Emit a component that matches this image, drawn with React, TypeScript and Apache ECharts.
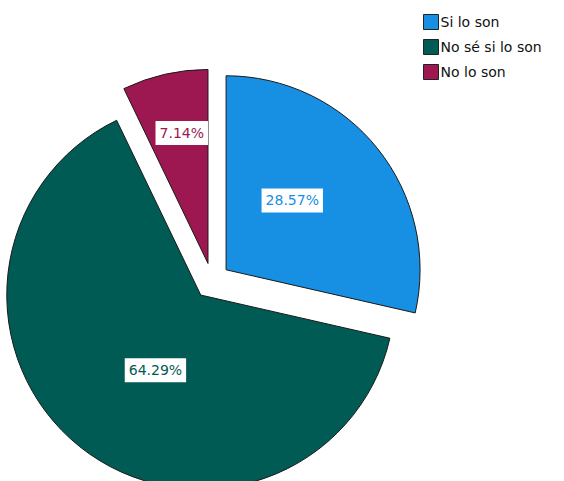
import React, { useEffect, useRef } from "react";
import * as echarts from "echarts";

const categories = ["Si lo son", "No sé si lo son", "No lo son"];
const values = [28.57, 64.29, 7.14];
const colors = ["#1790e3", "#015b55", "#9d1750"];

// label nudges to mimic the original placement
const labelNudge: number[][] = [
  [-12, -7],
  [17, -3],
  [-4, -33],
];

export default function App() {
  const ref = useRef<HTMLDivElement>(null);
  useEffect(() => {
    document.body.style.margin = "0";
    const chart = echarts.init(ref.current!, null, { renderer: "svg" });
    chart.setOption({
      animation: false,
      backgroundColor: "#ffffff",
      legend: {
        orient: "vertical",
        left: 418,
        top: 9,
        itemWidth: 15,
        itemHeight: 15,
        itemGap: 9,
        icon: "rect",
        selectedMode: false,
        textStyle: { fontFamily: "DejaVu Sans", fontSize: 14, color: "#111", padding: [0, 0, 0, -3] },
        itemStyle: { borderColor: "#222", borderWidth: 1 },
        data: categories,
      },
      series: [
        {
          type: "pie",
          center: [212, 281],
          radius: [0, 194],
          startAngle: 90,
          clockwise: true,
          selectedMode: "multiple",
          selectedOffset: 18,
          itemStyle: { borderColor: "#1a1a1a", borderWidth: 1 },
          emphasis: { disabled: true },
          label: {
            show: true,
            position: "inside",
            formatter: (p: any) => p.value.toFixed(2) + "%",
            fontFamily: "DejaVu Sans",
            fontSize: 14,
            backgroundColor: "#ffffff",
            padding: [5, 4],
          },
          labelLayout: (p: any) => ({ dx: labelNudge[p.dataIndex][0], dy: labelNudge[p.dataIndex][1] }),
          labelLine: { show: false },
          data: categories.map((c, i) => ({
            name: c,
            value: values[i],
            selected: true,
            itemStyle: { color: colors[i] },
            label: { color: colors[i] },
          })),
        },
      ],
    });
    return () => chart.dispose();
  }, []);
  return <div ref={ref} style={{ position: "fixed", left: 0, top: 0, width: 564, height: 481 }} />;
}
